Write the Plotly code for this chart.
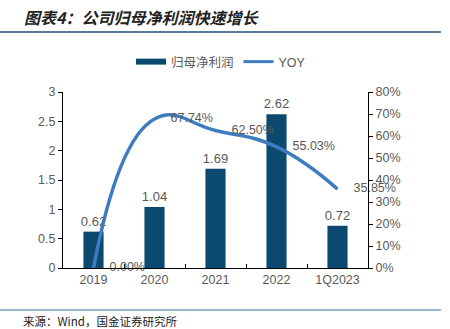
import plotly.graph_objects as go

categories = ["2019", "2020", "2021", "2022", "1Q2023"]
profit = [0.62, 1.04, 1.69, 2.62, 0.72]
yoy = [0.0, 0.6774, 0.6250, 0.5503, 0.3585]
profit_labels = ["0.62", "1.04", "1.69", "2.62", "0.72"]
yoy_labels = ["0.00%", "67.74%", "62.50%", "55.03%", "35.85%"]

BAR_COLOR = "#0B4A6E"
LINE_COLOR = "#3E7CC0"
TXT = "#595959"
FONT = "Liberation Sans, Arial, Noto Sans CJK SC"

L, R, T, B = 63, 82, 92, 61
W, H = 450, 329
PW, PH = W - L - R, H - T - B

def px(x):
    return (x - L) / PW

def py(y):
    return (H - B - y) / PH

fig = go.Figure()

fig.add_trace(go.Bar(
    x=categories, y=profit, width=0.33,
    marker=dict(color=BAR_COLOR, line=dict(width=0)),
    text=profit_labels, textposition="outside", cliponaxis=False,
    constraintext="none", textangle=0,
    textfont=dict(size=13, color=TXT, family=FONT),
    showlegend=False, name="归母净利润",
))
fig.add_trace(go.Scatter(
    x=categories, y=yoy, yaxis="y2", mode="lines+markers+text",
    line=dict(color=LINE_COLOR, width=3.5, shape="spline", smoothing=1.3),
    marker=dict(size=24, opacity=0),
    text=yoy_labels, textposition="middle right", cliponaxis=False,
    textfont=dict(size=12.5, color=TXT, family=FONT),
    showlegend=False, name="YOY",
))
# legend entries
fig.add_trace(go.Scatter(x=[None], y=[None], mode="lines", name="归母净利润",
                         line=dict(color=BAR_COLOR, width=6)))
fig.add_trace(go.Scatter(x=[None], y=[None], mode="lines", name="YOY",
                         line=dict(color=LINE_COLOR, width=3)))

fig.update_layout(
    width=W, height=H, margin=dict(l=L, r=R, t=T, b=B),
    paper_bgcolor="white", plot_bgcolor="white",
    font=dict(family=FONT, size=12, color=TXT),
    xaxis=dict(type="category", showline=True, linecolor="#000", linewidth=1,
               ticks="inside", tickson="boundaries", ticklen=4, tickcolor="#000",
               showgrid=False, tickfont=dict(size=12.5, color=TXT)),
    yaxis=dict(range=[0, 3], dtick=0.5, showline=True, linecolor="#000", linewidth=1,
               ticks="outside", ticklen=4, tickcolor="#000", showgrid=False,
               zeroline=False, tickfont=dict(size=12.5, color=TXT)),
    yaxis2=dict(range=[0, 0.8], dtick=0.1, tickformat=".0%", overlaying="y", side="right",
                showline=True, linecolor="#000", linewidth=1, ticks="outside", ticklen=4,
                tickcolor="#000", showgrid=False, zeroline=False,
                tickfont=dict(size=12.5, color=TXT)),
    legend=dict(orientation="h", x=0.518, xanchor="center", y=py(62), yanchor="middle",
                font=dict(size=12.5, color=TXT), itemwidth=30, bgcolor="rgba(0,0,0,0)"),
    showlegend=True,
)

fig.add_annotation(xref="paper", yref="paper", x=px(22), y=py(17), xanchor="left",
                   yanchor="middle", showarrow=False,
                   text="<b><i>图表4：公司归母净利润快速增长</i></b>",
                   font=dict(size=16, color="#222222", family="Noto Sans CJK SC"))
fig.add_shape(type="line", xref="paper", yref="paper", x0=px(0), x1=px(441),
              y0=py(32), y1=py(32), line=dict(color="#1F5078", width=1.5))
fig.add_shape(type="line", xref="paper", yref="paper", x0=px(0), x1=px(441),
              y0=py(310), y1=py(310), line=dict(color="#3A6E93", width=1.2))
fig.add_annotation(xref="paper", yref="paper", x=px(21), y=py(321), xanchor="left",
                   yanchor="middle", showarrow=False,
                   text="来源：Wind，国金证券研究所",
                   font=dict(size=11.5, color="#222222", family="Noto Sans CJK SC"))

fig.write_html("out.html")
